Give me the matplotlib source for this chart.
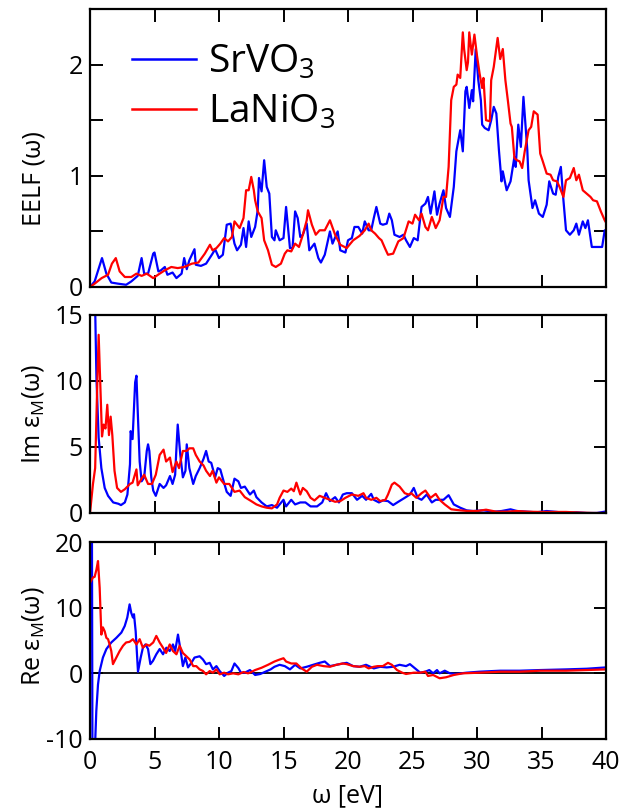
import matplotlib
matplotlib.use("Agg")
import matplotlib.pyplot as plt
from matplotlib.ticker import FixedLocator

plt.rcParams['font.family'] = ['Open Sans', 'DejaVu Sans']
plt.rcParams['mathtext.fontset'] = 'custom'
plt.rcParams['mathtext.rm'] = 'Open Sans'
plt.rcParams['mathtext.it'] = 'Open Sans:italic'
plt.rcParams['mathtext.bf'] = 'Open Sans:bold'
plt.rcParams['axes.unicode_minus'] = False

# ---------------- data ----------------
labels = ["SrVO$_3$", "LaNiO$_3$"]
colors = ["#0000ff", "#ff0000"]

# EELF, SrVO3
eelf_sr_x = [0, 0.36, 0.93, 1.27, 1.65, 2.17, 2.8, 3.2, 3.7, 4.0, 4.2, 4.5, 4.9, 5.0, 5.3, 5.5, 5.8, 6.0, 6.4,
             6.7, 7.1, 7.3, 7.5, 7.7, 8.1, 8.2, 8.6, 9.0, 9.5, 9.7, 10.0, 10.3, 10.6, 10.9, 11.2, 11.4, 11.7,
             11.9, 12.1, 12.3, 12.5, 12.8, 13.0, 13.1, 13.3, 13.5, 13.7, 13.9, 14.1, 14.3, 14.4, 14.7, 15.0,
             15.2, 15.5, 15.7, 15.9, 16.1, 16.3, 16.5, 16.8, 17.0, 17.4, 17.7, 17.9, 18.2, 18.6, 18.8, 19.2,
             19.4, 19.8, 20.0, 20.3, 20.5, 20.8, 21.1, 21.3, 21.6, 21.8, 22.0, 22.2, 22.5, 22.7, 23.0, 23.2,
             23.4, 23.6, 24.0, 24.3, 24.5, 24.8, 25.1, 25.4, 25.7, 26.0, 26.2, 26.4, 26.7, 26.9, 27.1, 27.4,
             27.6, 27.9, 28.2, 28.4, 28.7, 28.9, 29.1, 29.2, 29.4, 29.6, 29.7, 29.9, 30.1, 30.3, 30.4, 30.6,
             30.9, 31.1, 31.3, 31.5, 31.7, 31.9, 32.0, 32.3, 32.6, 32.9, 33.0, 33.2, 33.4, 33.6, 33.9, 34.0,
             34.3, 34.5, 34.8, 35.1, 35.4, 35.6, 35.9, 36.1, 36.3, 36.5, 36.7, 36.9, 37.2, 37.5, 37.7, 37.9,
             38.2, 38.4, 38.6, 38.9, 39.3, 39.7, 39.9, 40.0]
eelf_sr_y = [0, 0.05, 0.26, 0.12, 0.04, 0.03, 0.02, 0.05, 0.10, 0.26, 0.12, 0.12, 0.30, 0.31, 0.14, 0.15, 0.18,
             0.11, 0.13, 0.08, 0.12, 0.26, 0.16, 0.24, 0.34, 0.20, 0.19, 0.21, 0.30, 0.34, 0.26, 0.29, 0.56,
             0.57, 0.39, 0.33, 0.38, 0.53, 0.36, 0.59, 0.45, 0.54, 0.69, 0.98, 0.86, 1.14, 0.90, 0.84, 0.45,
             0.42, 0.51, 0.42, 0.44, 0.72, 0.35, 0.35, 0.68, 0.62, 0.45, 0.47, 0.57, 0.33, 0.39, 0.26, 0.22,
             0.29, 0.50, 0.39, 0.50, 0.33, 0.31, 0.42, 0.44, 0.54, 0.54, 0.48, 0.59, 0.51, 0.51, 0.62, 0.72,
             0.57, 0.56, 0.57, 0.66, 0.60, 0.47, 0.45, 0.47, 0.42, 0.36, 0.44, 0.42, 0.72, 0.75, 0.81, 0.66,
             0.86, 0.65, 0.75, 0.87, 0.71, 0.63, 0.90, 1.22, 1.41, 1.22, 1.76, 1.80, 1.61, 1.77, 1.67, 2.14,
             1.86, 1.68, 1.46, 1.43, 1.41, 1.50, 1.62, 1.56, 1.23, 0.95, 1.04, 0.87, 0.95, 1.17, 1.08, 1.46,
             1.26, 1.71, 1.23, 0.96, 0.71, 0.78, 0.66, 0.63, 0.74, 0.95, 0.84, 0.83, 0.99, 1.08, 0.78, 0.51,
             0.47, 0.51, 0.57, 0.47, 0.59, 0.53, 0.60, 0.36, 0.36, 0.36, 0.51, 0.48]

# EELF, LaNiO3
eelf_la_x = [0, 0.36, 0.9, 1.4, 1.7, 2.0, 2.3, 2.7, 3.2, 3.6, 4.0, 4.4, 4.9, 5.4, 5.8, 6.3, 6.8, 7.3, 7.9, 8.4,
             8.9, 9.3, 9.5, 9.8, 10.1, 10.4, 10.7, 11.0, 11.2, 11.6, 11.9, 12.1, 12.3, 12.5, 12.7, 12.8, 13.0,
             13.3, 13.5, 13.8, 14.1, 14.4, 14.8, 15.1, 15.3, 15.6, 15.9, 16.2, 16.5, 16.8, 16.9, 17.2, 17.5,
             17.8, 18.2, 18.6, 19.0, 19.4, 19.9, 20.4, 20.9, 21.3, 21.6, 21.8, 22.1, 22.4, 22.6, 22.9, 23.1,
             23.5, 23.9, 24.3, 24.7, 25.0, 25.2, 25.5, 25.7, 26.0, 26.2, 26.5, 26.8, 27.1, 27.4, 27.6, 27.8,
             28.0, 28.2, 28.4, 28.5, 28.7, 28.9, 29.0, 29.2, 29.3, 29.4, 29.6, 29.8, 30.0, 30.2, 30.4, 30.5,
             30.7, 31.0, 31.1, 31.3, 31.6, 31.8, 32.0, 32.2, 32.4, 32.6, 32.7, 32.9, 33.1, 33.3, 33.5, 33.7,
             34.0, 34.2, 34.4, 34.7, 34.9, 35.1, 35.4, 35.7, 35.9, 36.2, 36.4, 36.7, 36.9, 37.2, 37.5, 37.7,
             37.9, 38.2, 38.5, 38.8, 39.0, 39.3, 39.6, 39.9, 40.0]
eelf_la_y = [0, 0.03, 0.08, 0.11, 0.21, 0.26, 0.14, 0.09, 0.09, 0.12, 0.10, 0.12, 0.08, 0.12, 0.15, 0.18, 0.17,
             0.18, 0.21, 0.22, 0.30, 0.38, 0.33, 0.35, 0.39, 0.44, 0.41, 0.45, 0.59, 0.53, 0.62, 0.87, 0.87,
             0.99, 0.87, 0.78, 0.68, 0.62, 0.42, 0.33, 0.20, 0.18, 0.21, 0.30, 0.33, 0.32, 0.39, 0.36, 0.47,
             0.60, 0.69, 0.56, 0.47, 0.51, 0.51, 0.60, 0.47, 0.38, 0.35, 0.42, 0.46, 0.51, 0.57, 0.51, 0.48,
             0.44, 0.42, 0.34, 0.29, 0.30, 0.41, 0.44, 0.59, 0.57, 0.65, 0.60, 0.66, 0.54, 0.51, 0.63, 0.53,
             0.60, 0.81, 0.81, 1.08, 1.68, 1.80, 1.82, 1.91, 1.88, 2.29, 2.14, 1.95, 2.02, 2.29, 2.09, 2.27,
             2.08, 1.92, 1.79, 1.88, 1.50, 1.49, 1.86, 1.98, 2.24, 2.05, 2.14, 1.86, 1.67, 1.47, 1.44, 1.16,
             1.14, 1.13, 1.07, 1.22, 1.41, 1.44, 1.58, 1.55, 1.20, 1.13, 1.02, 1.01, 0.96, 0.95, 0.90, 0.81,
             0.96, 0.98, 1.07, 0.96, 1.01, 0.87, 0.84, 0.81, 0.78, 0.77, 0.68, 0.60, 0.58]

# Im eps_M, SrVO3
im_sr_x = [0.05, 0.4, 0.5, 0.67, 0.88, 1.14, 1.4, 1.8, 2.2, 2.4, 2.7, 2.9, 3.1, 3.15, 3.3, 3.5, 3.6, 3.7, 3.85,
           4.0, 4.2, 4.4, 4.5, 4.6, 4.75, 4.9, 5.1, 5.4, 5.7, 5.9, 6.2, 6.4, 6.6, 6.7, 6.8, 7.0, 7.2, 7.4,
           7.5, 7.7, 8.0, 8.2, 8.5, 8.8, 9.0, 9.2, 9.4, 9.7, 9.9, 10.1, 10.3, 10.6, 10.9, 11.2, 11.5, 11.7,
           12.0, 12.4, 12.7, 12.9, 13.3, 13.7, 14.1, 14.5, 14.7, 15.0, 15.2, 15.6, 15.9, 16.3, 16.7, 17.1,
           17.6, 18.0, 18.3, 18.6, 19.0, 19.3, 19.6, 19.9, 20.3, 20.7, 21.1, 21.4, 21.8, 22.0, 22.4, 22.7,
           23.1, 23.5, 23.9, 24.4, 24.8, 25.1, 25.4, 25.7, 26.1, 26.5, 26.8, 27.4, 27.8, 28.2, 28.7, 29.2,
           29.7, 30.5, 31.3, 31.9, 32.6, 33.1, 33.9, 34.6, 35.4, 36.2, 36.9, 37.7, 38.5, 39.3, 39.9, 40.0]
im_sr_y = [60, 15.5, 10.2, 5.7, 3.4, 1.9, 1.3, 0.8, 0.7, 0.6, 0.8, 1.4, 3.7, 6.2, 5.6, 9.9, 10.4, 7.7, 3.9,
           2.4, 2.7, 4.7, 5.2, 4.7, 2.7, 1.7, 1.3, 2.2, 1.9, 2.1, 2.8, 2.2, 2.9, 4.9, 6.7, 4.4, 2.7, 3.2,
           5.2, 3.4, 2.2, 2.8, 3.4, 4.1, 4.7, 3.9, 3.8, 2.7, 3.4, 3.3, 2.6, 1.6, 1.3, 2.6, 2.4, 1.9, 2.0,
           1.4, 1.7, 1.2, 0.8, 0.5, 0.6, 0.4, 0.65, 1.0, 0.5, 1.0, 0.65, 0.8, 0.8, 0.5, 0.5, 0.8, 1.5, 0.9,
           1.2, 0.8, 1.4, 1.5, 1.5, 1.0, 1.3, 1.0, 1.45, 1.0, 0.8, 0.95, 0.9, 0.6, 0.85, 1.15, 1.4, 1.9,
           1.15, 1.0, 1.4, 0.8, 1.0, 1.0, 1.35, 0.65, 0.4, 0.2, 0.15, 0.2, 0.1, 0.15, 0.28, 0.15, 0.1, 0.05,
           0.15, 0.08, 0.0, 0.05, 0.0, 0.0, 0.1, 0.12]

# Im eps_M, LaNiO3
im_la_x = [0, 0.23, 0.4, 0.54, 0.67, 0.8, 0.93, 1.06, 1.2, 1.34, 1.47, 1.6, 1.73, 1.9, 2.1, 2.4, 2.7, 3.1, 3.3,
           3.6, 3.7, 4.0, 4.2, 4.5, 4.8, 5.1, 5.4, 5.7, 5.9, 6.2, 6.4, 6.7, 6.9, 7.2, 7.5, 7.7, 8.0, 8.2,
           8.5, 8.8, 9.0, 9.3, 9.5, 9.8, 10.0, 10.4, 10.8, 11.2, 11.6, 12.0, 12.5, 12.9, 13.3, 13.7, 14.1,
           14.5, 14.7, 15.0, 15.3, 15.6, 15.8, 16.0, 16.3, 16.5, 16.8, 17.1, 17.4, 17.8, 18.2, 18.6, 19.0,
           19.4, 19.8, 20.3, 20.8, 21.2, 21.4, 21.8, 22.2, 22.5, 22.9, 23.1, 23.4, 23.6, 24.0, 24.4, 24.7,
           24.9, 25.3, 25.7, 26.0, 26.4, 26.8, 27.1, 27.5, 28.0, 28.7, 29.3, 30.0, 30.7, 31.5, 32.3, 33.1,
           33.9, 34.9, 35.9, 36.9, 38.0, 39.0, 40.0]
im_la_y = [0, 2.2, 3.4, 8.9, 13.5, 9.7, 5.8, 6.7, 6.4, 8.2, 5.9, 7.3, 5.9, 3.2, 1.9, 1.6, 1.8, 2.2, 2.3,
           3.3, 2.1, 2.6, 2.9, 2.2, 2.2, 2.9, 4.4, 4.8, 3.9, 4.2, 3.1, 3.9, 3.4, 4.7, 4.7, 4.9, 4.9, 4.4,
           3.9, 3.6, 3.2, 2.8, 3.2, 2.3, 2.7, 2.2, 2.2, 1.6, 1.7, 1.2, 0.9, 0.65, 0.5, 0.4, 0.35, 0.65,
           1.15, 1.7, 1.6, 1.85, 1.65, 2.3, 1.4, 1.9, 1.65, 1.15, 0.95, 1.3, 1.15, 1.0, 0.85, 0.9, 1.15,
           1.4, 1.3, 1.5, 1.15, 1.0, 1.15, 0.9, 1.0, 1.4, 2.15, 2.3, 2.0, 1.5, 1.4, 1.5, 1.15, 1.5, 1.7,
           1.15, 1.45, 1.0, 0.65, 0.28, 0.2, 0.15, 0.15, 0.25, 0.1, 0.1, 0.15, 0.1, 0.08, 0.08, 0.08,
           0.03, 0.0, 0.0]

# Re eps_M, SrVO3
re_sr_x = [0.05, 0.15, 0.22, 0.3, 0.41, 0.49, 0.62, 0.75, 1.0, 1.27, 1.65, 2.04, 2.43, 2.69, 2.89, 3.07, 3.2,
           3.33, 3.41, 3.54, 3.72, 3.93, 4.1, 4.3, 4.5, 4.68, 4.88, 5.14, 5.4, 5.66, 5.92, 6.18, 6.43, 6.6,
           6.82, 7.03, 7.2, 7.39, 7.6, 7.86, 8.1, 8.5, 8.76, 9.0, 9.28, 9.53, 9.8, 10.05, 10.4, 10.7,
           10.96, 11.2, 11.5, 11.7, 12.0, 12.4, 12.8, 13.2, 13.6, 14.0, 14.3, 14.7, 15.1, 15.5, 15.9, 16.3,
           16.8, 17.3, 17.8, 18.2, 18.6, 19.1, 19.6, 19.9, 20.4, 20.9, 21.4, 22.0, 22.5, 23.0, 23.5, 24.0,
           24.5, 24.8, 25.2, 25.6, 26.0, 26.3, 26.6, 26.9, 27.1, 27.5, 27.9, 28.3, 29.2, 30.2, 31.8, 33.3,
           34.9, 36.9, 38.5, 40.0]
re_sr_y = [40, 22, -40, -16, -10, -5.7, -1.7, 0.35, 2.4, 3.7, 4.7, 5.4, 6.2, 7.2, 8.5, 10.5, 9.2, 8.5, 9.0,
           6.4, 0.25, 2.4, 3.9, 4.4, 3.7, 1.4, 1.9, 2.9, 3.7, 2.9, 3.9, 3.4, 4.4, 3.4, 5.9, 3.4, 1.1, 2.4,
           0.9, 1.6, 2.4, 2.6, 2.1, 1.4, 1.6, 0.6, 1.1, 0.35, -0.4, 0.1, 0.35, 1.5, 0.8, 0.1, 0.1, 0.5,
           -0.25, -0.1, 0.25, 0.6, 1.0, 1.3, 1.1, 0.6, 1.3, 0.75, 1.0, 1.3, 1.6, 1.8, 1.1, 1.3, 1.5, 1.6,
           1.1, 1.0, 1.3, 0.75, 1.0, 0.9, 1.0, 1.3, 1.1, 1.4, 0.75, 0.1, 0.25, 0.5, 0.0, 0.5, 0.0, 0.4,
           0.0, -0.1, 0.1, 0.25, 0.4, 0.4, 0.5, 0.6, 0.7, 0.9]

# Re eps_M, LaNiO3
re_la_x = [0, 0.23, 0.36, 0.5, 0.62, 0.75, 0.88, 1.0, 1.14, 1.27, 1.4, 1.52, 1.65, 1.78, 2.04, 2.3, 2.56, 2.8,
           3.07, 3.33, 3.6, 3.85, 4.1, 4.37, 4.6, 4.9, 5.14, 5.4, 5.66, 5.9, 6.18, 6.43, 6.7, 6.95, 7.2,
           7.47, 7.73, 8.0, 8.24, 8.5, 8.76, 9.0, 9.28, 9.53, 9.8, 10.05, 10.4, 10.7, 11.1, 11.5, 11.9,
           12.25, 12.4, 12.8, 13.3, 13.8, 14.3, 14.7, 15.0, 15.2, 15.6, 16.0, 16.4, 16.8, 17.2, 17.6, 18.1,
           18.6, 19.1, 19.6, 19.9, 20.4, 20.9, 21.3, 21.6, 22.0, 22.3, 22.7, 23.1, 23.4, 23.8, 24.2, 24.5,
           25.1, 25.6, 26.0, 26.2, 26.6, 27.1, 27.6, 28.2, 28.9, 30.2, 31.8, 33.3, 34.9, 36.9, 38.5, 40.0]
re_la_y = [13.8, 14.6, 14.7, 15.8, 17.1, 13.0, 5.9, 7.0, 6.4, 5.4, 5.2, 4.4, 3.4, 1.4, 2.4, 3.4, 4.2, 4.7,
           4.8, 5.2, 4.4, 5.2, 3.9, 4.4, 4.2, 4.7, 5.7, 4.7, 3.9, 3.1, 4.4, 3.4, 2.9, 4.2, 3.1, 2.6, 2.1,
           1.1, 1.1, 0.6, 0.35, -0.15, 0.35, 0.1, 0.6, -0.15, 0.1, -0.15, 0.0, -0.15, 0.2, 0.0, 0.1, 0.5,
           0.85, 1.3, 1.8, 2.1, 2.3, 1.8, 1.5, 1.5, 0.75, 0.25, 1.0, 1.3, 1.1, 1.0, 1.3, 1.5, 1.4, 1.1,
           1.0, 1.1, 0.75, 1.0, 1.1, 1.1, 1.6, 1.3, 0.5, 0.1, -0.1, 0.1, 0.1, 0.25, -0.4, -0.25, -0.75,
           -0.6, -0.25, 0.0, 0.1, 0.25, 0.25, 0.4, 0.4, 0.5, 0.6]

xticks = [0, 5, 10, 15, 20, 25, 30, 35, 40]

# ---------------- figure ----------------
W, H = 644, 811
fig = plt.figure(figsize=(W / 100, H / 100), dpi=100)

def px_axes(left, top, right, bottom):
    return fig.add_axes([left / W, 1 - bottom / H, (right - left) / W, (bottom - top) / H])

ax1 = px_axes(90, 9, 606, 287)
ax2 = px_axes(90, 315, 606, 513)
ax3 = px_axes(90, 542, 606, 739)

LW = 1.6
FS = 18

ax1.plot(eelf_sr_x, eelf_sr_y, color=colors[0], lw=LW, label=labels[0])
ax1.plot(eelf_la_x, eelf_la_y, color=colors[1], lw=LW, label=labels[1])
ax2.plot(im_sr_x, im_sr_y, color=colors[0], lw=LW)
ax2.plot(im_la_x, im_la_y, color=colors[1], lw=LW)
ax3.axhline(0, color='black', lw=1.3)
ax3.plot(re_sr_x, re_sr_y, color=colors[0], lw=LW)
ax3.plot(re_la_x, re_la_y, color=colors[1], lw=LW)

ax1.set_ylim(0, 2.5)
ax1.yaxis.set_major_locator(FixedLocator([0, 1, 2]))
ax1.yaxis.set_minor_locator(FixedLocator([0.5, 1.5, 2.5]))
ax2.set_ylim(0, 15)
ax2.set_yticks([0, 5, 10, 15])
ax3.set_ylim(-10, 20)
ax3.set_yticks([-10, 0, 10, 20])

for ax in (ax1, ax2, ax3):
    ax.set_xlim(0, 40)
    ax.set_xticks(xticks)
    for s in ax.spines.values():
        s.set_linewidth(1.6)
    ax.tick_params(which='both', direction='in', top=True, right=True, length=9, width=1.4,
                   labelsize=FS)
    ax.tick_params(axis='y', pad=5)
    ax.tick_params(axis='x', pad=8)

ax1.tick_params(axis='x', labelbottom=False)
ax2.tick_params(axis='x', labelbottom=False)

ax1.set_ylabel("EELF (ω)", fontsize=FS)
ax2.set_ylabel("Im ε$_{\\mathrm{M}}$(ω)", fontsize=FS)
ax3.set_ylabel("Re ε$_{\\mathrm{M}}$(ω)", fontsize=FS)
ax1.yaxis.set_label_coords(-0.085, 0.39)
ax2.yaxis.set_label_coords(-0.085, 0.5)
ax3.yaxis.set_label_coords(-0.085, 0.52)
ax3.set_xlabel("ω [eV]", fontsize=FS, labelpad=6)

leg = ax1.legend(loc='upper left', bbox_to_anchor=(0.082, 0.875), frameon=False, fontsize=28,
                 handlelength=1.65, handletextpad=0.3, labelspacing=0.3, borderpad=0,
                 borderaxespad=0)
for h in leg.get_lines():
    h.set_linewidth(1.8)

fig.savefig("out.png", dpi=100)
